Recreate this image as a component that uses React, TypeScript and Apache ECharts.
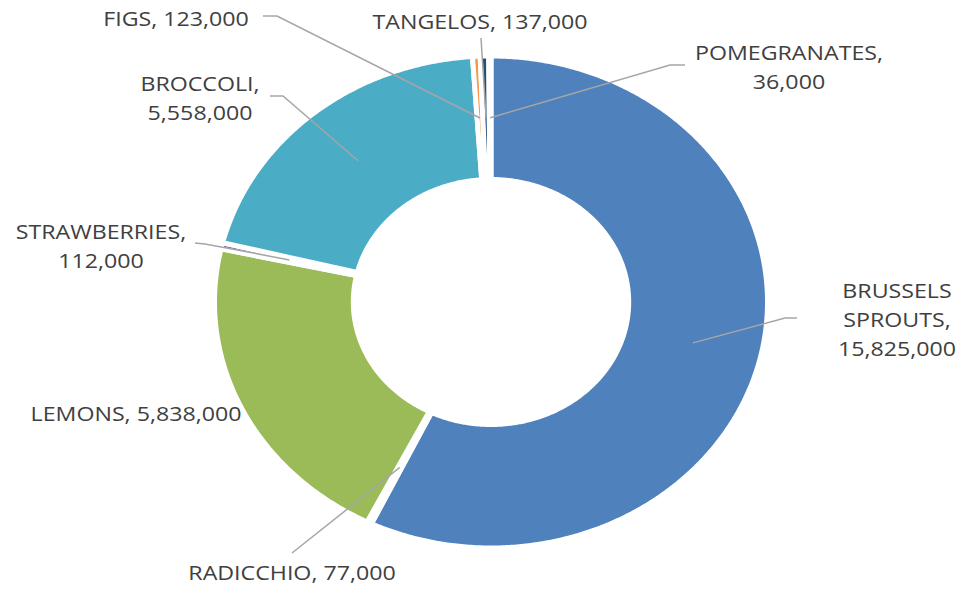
import React, { useEffect, useRef } from "react";
import * as echarts from "echarts";

// ---- data ----
const categories = [
  "BRUSSELS SPROUTS",
  "RADICCHIO",
  "LEMONS",
  "STRAWBERRIES",
  "BROCCOLI",
  "FIGS",
  "TANGELOS",
  "POMEGRANATES",
];
const values = [15825000, 77000, 5838000, 112000, 5558000, 123000, 137000, 36000];
const colors = ["#4F81BD", "#C0504D", "#9BBB59", "#8064A2", "#4BACC6", "#F79646", "#2C4D75", "#772C2A"];
const labelNames = ["BRUSSELS\nSPROUTS", "RADICCHIO", "LEMONS", "STRAWBERRIES", "BROCCOLI", "FIGS", "TANGELOS", "POMEGRANATES"];
const labelBreak = [true, false, false, true, true, false, false, true];

// ---- layout ----
const CX = 491;
const CY = 302;
const RY = 246;
const RY0 = 122.5;
const KX = 1.124;
const labelPos = [
  [897, 319],
  [292, 572],
  [136, 413],
  [101, 246],
  [200, 98],
  [176, 18],
  [480, 21],
  [789, 67],
];
const leaderStart: (number[][] | null)[] = [
  [[797, 318], [785, 318]],
  [[292, 553]],
  null,
  [[195, 243], [205, 244]],
  [[270, 96], [283, 96]],
  [[263, 16], [277, 16]],
  [[481, 38]],
  [[685, 65], [670, 65]],
];

const total = values.reduce((a, b) => a + b, 0);
const startAngles: number[] = [];
{
  let acc = 0;
  values.forEach((v) => {
    startAngles.push((acc / total) * Math.PI * 2);
    acc += v;
  });
}

const pt = (a: number, r: number) => [CX + r * KX * Math.sin(a), CY - r * Math.cos(a)];

export default function App() {
  const ref = useRef<HTMLDivElement>(null);
  useEffect(() => {
    if (!ref.current) return;
    const chart = echarts.init(ref.current, null, { renderer: "svg" });
    chart.setOption({
      animation: false,
      backgroundColor: "#ffffff",
      series: [
        {
          type: "custom",
          coordinateSystem: "none",
          data: values.map((v, i) => ({ value: v, name: categories[i] })),
          renderItem: (params: any, api: any) => {
            const i = params.dataIndex;
            const v = api.value(0);
            const a0 = startAngles[i];
            const a1 = a0 + (v / total) * Math.PI * 2;
            const n = Math.max(2, Math.ceil(((a1 - a0) * 180) / Math.PI / 0.5));
            const pts: number[][] = [];
            for (let k = 0; k <= n; k++) pts.push(pt(a0 + ((a1 - a0) * k) / n, RY));
            for (let k = n; k >= 0; k--) pts.push(pt(a0 + ((a1 - a0) * k) / n, RY0));
            const mid = (a0 + a1) / 2;
            const end = pt(mid, (RY + RY0) / 2);
            const children: any[] = [
              {
                type: "polygon",
                z2: 1,
                shape: { points: pts },
                style: { fill: colors[i], stroke: "#ffffff", lineWidth: 5, lineJoin: "round" },
              },
            ];
            const ls = leaderStart[i];
            if (ls) {
              children.push({
                type: "polyline",
                z2: 20,
                shape: { points: [...ls, end] },
                style: { stroke: "#A6A6A6", lineWidth: 1.5, fill: "none" },
              });
            }
            const txt =
              labelNames[i] + "," + (labelBreak[i] ? "\n" : " ") + Number(v).toLocaleString("en-US");
            children.push({
              type: "text",
              z2: 30,
              x: labelPos[i][0],
              y: labelPos[i][1],
              scaleX: 1.16,
              style: {
                text: txt,
                fill: "#404040",
                fontSize: 20,
                fontFamily: "Open Sans",
                align: "center",
                verticalAlign: "middle",
                textAlign: "center",
                textVerticalAlign: "middle",
                lineHeight: 29,
              },
            });
            return { type: "group", children };
          },
        },
      ],
    });
    return () => chart.dispose();
  }, []);
  return (
    <div
      ref={ref}
      style={{ position: "absolute", left: 0, top: 0, width: 963, height: 589, background: "#fff" }}
    />
  );
}
